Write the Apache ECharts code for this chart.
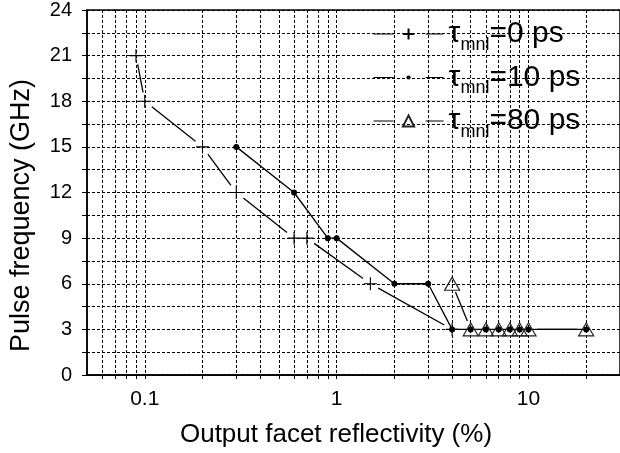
<!DOCTYPE html>
<html><head><meta charset="utf-8">
<script src="https://cdn.jsdelivr.net/npm/echarts@6/dist/echarts.min.js"></script>
<style>html,body{margin:0;padding:0;background:#fff}#c{width:620px;height:453px}</style>
</head><body><div id="c"></div>
<script>
// ---- data ----
const x0ps = [0.09, 0.1, 0.2, 0.3, 0.6, 0.7, 1.5, 4];
const y0ps = [21, 18, 15, 12, 9, 9, 6, 3];
const x10ps = [0.3, 0.6, 0.9, 1, 2, 3, 4, 5, 6, 7, 8, 9, 10, 20];
const y10ps = [15, 12, 9, 9, 6, 6, 3, 3, 3, 3, 3, 3, 3, 3];
const x80ps = [4, 5, 6, 7, 8, 9, 10, 20];
const y80ps = [6, 3, 3, 3, 3, 3, 3, 3];
const seriesNames = ['0 ps', '10 ps', '80 ps'];
const xTickLabels = [0.1, 1, 10];
const xTickValues = [0.06, 0.07, 0.08, 0.09, 0.1, 0.2, 0.3, 0.4, 0.5, 0.6, 0.7, 0.8, 0.9, 1, 2, 3, 4, 5, 6, 7, 8, 9, 10, 20];

const FONT = 'Liberation Sans, Arial, Helvetica, sans-serif';
const pairs = (xs, ys) => xs.map((x, i) => [x, ys[i]]);

function gapLine(pts, gap) {
  return {
    type: 'custom', data: pts, silent: true, z: 3, clip: false,
    encode: { x: 0, y: 1 },
    renderItem(params, api) {
      const i = params.dataIndex;
      if (i === 0) return null;
      const a = api.coord(pts[i - 1]), b = api.coord(pts[i]);
      const dx = b[0] - a[0], dy = b[1] - a[1], L = Math.hypot(dx, dy);
      if (L <= 2 * gap) return null;
      const ux = dx / L, uy = dy / L;
      return { type: 'line',
        shape: { x1: a[0] + ux * gap, y1: a[1] + uy * gap, x2: b[0] - ux * gap, y2: b[1] - uy * gap },
        style: { stroke: '#000', lineWidth: 1.3 } };
    }
  };
}

const plusSym = 'path://M0 6.5H13M6.5 0V13';
const dotSym = 'path://M0 0M16 16M5 8A3 3 0 1 0 11 8A3 3 0 1 0 5 8Z';
const triSym = 'path://M7.5 0L15 13L0 13Z';

const chart = echarts.init(document.getElementById('c'), null, { renderer: 'canvas' });
chart.setOption({
  animation: false,
  textStyle: { fontFamily: FONT },
  grid: { left: 83.5, top: 10, width: 539, height: 368.5, show: true, borderColor: '#000', borderWidth: 1.5, backgroundColor: 'transparent' },
  legend: {
    orient: 'vertical', left: 373, top: 19, padding: 0, itemWidth: 70, itemHeight: 14, itemGap: 8.5,
    selectedMode: false,
    lineStyle: { color: '#000', width: 1.1, opacity: 1, type: [20, 32] },
    formatter: n => '{a|τ}{b|mnl}{a|=' + n + '}',
    textStyle: {
      color: '#000', fontFamily: FONT,
      rich: {
        a: { fontSize: 30, lineHeight: 40, fontFamily: FONT, color: '#000' },
        b: { fontSize: 18, lineHeight: 18, verticalAlign: 'bottom', fontFamily: FONT, color: '#000' }
      }
    },
    data: seriesNames
  },
  xAxis: {
    type: 'log', logBase: 10, min: 0.05, max: 30,
    name: 'Output facet reflectivity (%)', nameLocation: 'middle', nameGap: 47,
    nameTextStyle: { fontSize: 26, color: '#000', fontFamily: FONT, padding: [0, 35, 0, 0] },
    axisLine: { lineStyle: { color: '#000', width: 1.5 } },
    axisTick: { show: true, length: 4, customValues: xTickValues, lineStyle: { color: '#000' } },
    axisLabel: { customValues: xTickLabels, fontSize: 21, color: '#000', margin: 14, fontFamily: FONT,
      formatter: v => String(+v) },
    splitLine: { show: true, lineStyle: { color: '#000', width: 1, type: [3, 2] } },
    minorTick: { show: false }, minorSplitLine: { show: false }
  },
  yAxis: {
    type: 'value', min: 0, max: 24, interval: 1.5,
    name: 'Pulse frequency (GHz)', nameLocation: 'middle', nameGap: 52,
    nameTextStyle: { fontSize: 27, color: '#000', fontFamily: FONT, padding: [0, 46, 0, 0] },
    axisLine: { show: true, lineStyle: { color: '#000', width: 1.5 } },
    axisTick: { show: true, length: 5, lineStyle: { color: '#000' } },
    axisLabel: { fontSize: 20, color: '#000', margin: 15, fontFamily: FONT,
      formatter: v => (v % 3 === 0 ? String(v) : '') },
    splitLine: { show: true, lineStyle: { color: '#000', width: 1, type: [3, 2] } }
  },
  series: [
    { name: seriesNames[0], type: 'line', data: pairs(x0ps, y0ps), symbol: plusSym, symbolSize: 13,
      lineStyle: { opacity: 0 }, itemStyle: { color: 'rgba(0,0,0,0)', borderColor: '#000', borderWidth: 1.1 },
      z: 4, silent: true },
    { name: seriesNames[1], type: 'line', data: pairs(x10ps, y10ps), symbol: dotSym, symbolSize: 16,
      lineStyle: { color: '#000', width: 1.3 }, itemStyle: { color: '#000', borderWidth: 0 },
      z: 4, silent: true },
    { name: seriesNames[2], type: 'line', data: pairs(x80ps, y80ps), symbol: triSym, symbolSize: [15, 13],
      lineStyle: { opacity: 0 }, itemStyle: { color: 'rgba(0,0,0,0)', borderColor: '#222', borderWidth: 1.2 },
      z: 5, silent: true },
    gapLine(pairs(x0ps, y0ps), 9),
    gapLine(pairs(x80ps, y80ps), 9)
  ]
});
</script></body></html>
